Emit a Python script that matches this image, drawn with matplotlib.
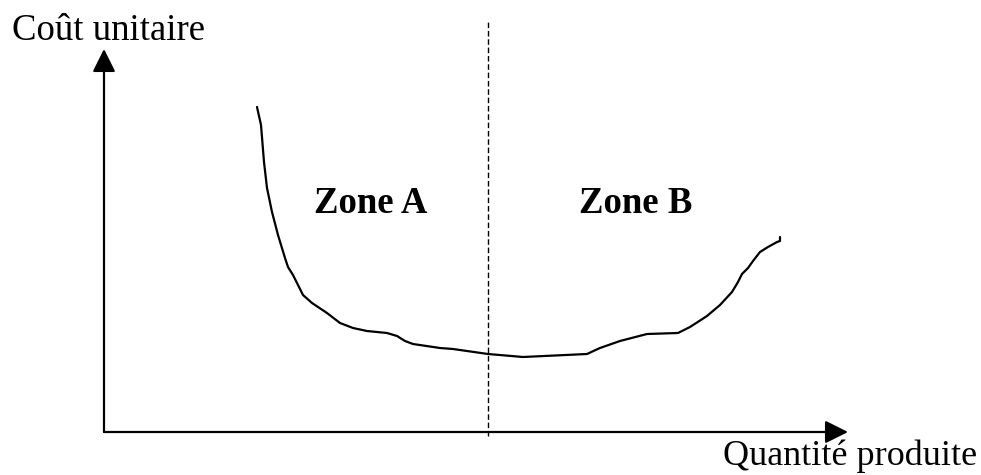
import matplotlib.pyplot as plt

# unit cost curve (quantity, unit cost) in chart units, origin at the axes corner
quantity = [153, 157, 160, 163, 168, 174, 181, 184, 189, 194, 199, 208, 223, 236,
            249, 263, 283, 293, 301, 309, 336, 349, 384, 419, 483, 496, 516, 543,
            574, 586, 603, 616, 628, 634, 638, 644, 649, 656, 664, 673, 676, 676]
unit_cost = [325, 307, 270, 244, 220, 197, 174, 165, 157, 147, 137, 129, 119, 109,
             104, 101, 99, 96, 91, 88, 84, 83, 78, 75, 78, 84, 91, 98,
             99, 105, 116, 127, 140, 150, 158, 164, 171, 180, 185, 190, 191, 195]

zone_limit = 384
x_axis_end = 744
y_axis_end = 383
zone_labels = ["Zone A", "Zone B"]
zone_label_x = [267, 532]
y_label = "Coût unitaire"
x_label = "Quantité produite"

plt.rcParams["font.family"] = ["Liberation Serif", "DejaVu Serif"]

fig = plt.figure(figsize=(9.81, 4.75), dpi=100)
ax = fig.add_axes([0, 0, 1, 1])
ax.set_xlim(-104, 877)
ax.set_ylim(-43, 432)
ax.axis("off")

arrow = dict(arrowstyle="-|>,head_length=0.4,head_width=0.2", mutation_scale=35,
             lw=1.6, color="black", shrinkA=0, shrinkB=0)
ax.annotate("", xy=(0, y_axis_end), xytext=(0, 0), arrowprops=arrow)
ax.annotate("", xy=(x_axis_end, 0), xytext=(0, 0), arrowprops=arrow)

ax.plot([zone_limit, zone_limit], [-4, 410], color="black", lw=1.0,
        dashes=(4, 2))

ax.plot(quantity, unit_cost, color="black", lw=1.6, solid_joinstyle="round",
        solid_capstyle="round")

for label, x in zip(zone_labels, zone_label_x):
    ax.text(x, 219, label, ha="center", va="baseline", fontsize=26.5,
            fontweight="bold")

ax.text(-92, 392, y_label, ha="left", va="baseline", fontsize=26.5)
ax.text(873, -33, x_label, ha="right", va="baseline", fontsize=26)

fig.savefig("out.png", dpi=100)
